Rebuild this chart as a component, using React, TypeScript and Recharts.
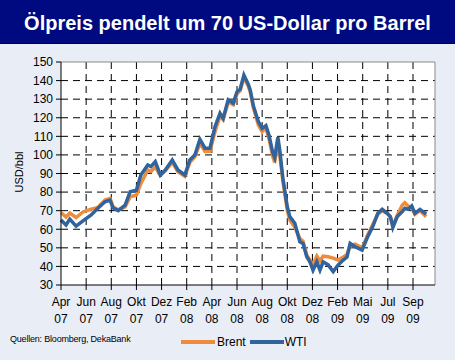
import React from "react";
import { LineChart, Line, XAxis, YAxis, CartesianGrid, ReferenceLine } from "recharts";

// month offsets from April 2007 (0 = Apr 07)
const monthPos = [0, 0.4, 0.7, 1.2, 1.75, 2.4, 2.95, 3.5, 3.9, 4.15, 4.55, 5.1, 5.5, 6.0, 6.35, 6.9, 7.15, 7.5, 7.9, 8.3, 8.85, 9.3, 9.85, 10.25, 10.65, 11.05, 11.45, 11.85, 12.25, 12.65, 12.9, 13.3, 13.7, 14.0, 14.25, 14.55, 14.9, 15.05, 15.3, 15.7, 16.0, 16.3, 16.55, 16.85, 17.0, 17.25, 17.4, 17.65, 18.0, 18.2, 18.6, 19.0, 19.25, 19.55, 19.8, 20.05, 20.35, 20.6, 20.85, 21.25, 21.65, 22.05, 22.45, 22.75, 23.0, 23.4, 23.95, 24.4, 24.8, 25.2, 25.55, 25.95, 26.2, 26.4, 26.75, 27.15, 27.35, 27.6, 27.9, 28.15, 28.55, 29.05];

const wti = [65, 62.3, 65.5, 61.7, 64.5, 67.7, 71.4, 74.8, 75.7, 71.4, 70, 73, 80.2, 81, 89.2, 94.6, 93.7, 96.4, 89.2, 91.9, 97.3, 91.9, 89.2, 97.3, 100, 108.4, 103.6, 103.6, 115.2, 122.4, 119.7, 129.6, 127.8, 134, 135.3, 143, 138, 135, 126.5, 117.9, 114.3, 115.8, 110.5, 101, 98.5, 109.5, 102.6, 87.5, 72.1, 66.8, 63.2, 53.3, 52.4, 45.2, 42.5, 38, 42.5, 38, 42.5, 40.8, 37.2, 40.8, 43.4, 45, 52.4, 50.6, 48.8, 56, 61.4, 68.6, 70.7, 68.6, 66.8, 61, 66.8, 69.5, 71.3, 70.7, 72.5, 68.6, 70.7, 68.2];

const brent = [69, 66.6, 68.7, 66.3, 69.3, 70.8, 71.8, 75.7, 76.6, 72.1, 70.4, 72, 77.5, 78.4, 84.5, 91.9, 91, 93.5, 89, 91.5, 96, 91, 88.5, 96, 99, 106.2, 101.9, 102, 112.5, 121, 119, 128.5, 127, 133, 134.5, 141.5, 137, 134, 125.5, 116, 112.5, 114.5, 108.5, 99, 96, 107, 100, 86, 70, 65, 61, 55, 53.5, 46, 43.5, 41, 45.5, 43, 45.5, 45.2, 44.5, 43.4, 45, 46.5, 51, 52, 50, 57, 62.5, 68, 70, 68.5, 66.5, 62, 67.5, 73, 74.3, 72.5, 71.5, 68, 70, 66.8];

const tickMonths = [0, 2, 4, 6, 8, 10, 12, 14, 16, 18, 20, 22, 24, 26, 28];
const tickMonthNames = ["Apr", "Jun", "Aug", "Okt", "Dez", "Feb", "Apr", "Jun", "Aug", "Okt", "Dez", "Feb", "Mai", "Jul", "Sep"];
const tickYears = ["07", "07", "07", "07", "07", "08", "08", "08", "08", "08", "08", "09", "09", "09", "09"];
const yTicks = [30, 40, 50, 60, 70, 80, 90, 100, 110, 120, 130, 140, 150];
const gridY = [40, 50, 60, 70, 80, 90, 100, 110, 120, 130, 140];
const gridX = [2, 4, 6, 8, 10, 12, 14, 16, 18, 20, 22, 24, 26, 28];

const title = "Ölpreis pendelt um 70 US-Dollar pro Barrel";
const source = "Quellen: Bloomberg, DekaBank";
const yLabel = "USD/bbl";

const data = monthPos.map((m, i) => ({ m, wti: wti[i], brent: brent[i] }));

const BRENT = "#ee8c3e";
const WTI = "#31639c";
const FONT = "'Liberation Sans', Arial, sans-serif";

const XTick = (props: any) => {
  const { x, y, payload } = props;
  const idx = tickMonths.indexOf(payload.value);
  return (
    <g>
      <text x={x} y={y + 16} textAnchor="middle" fontSize={12} fill="#000" fontFamily={FONT}>
        {tickMonthNames[idx]}
      </text>
      <text x={x} y={y + 33} textAnchor="middle" fontSize={12} fill="#000" fontFamily={FONT}>
        {tickYears[idx]}
      </text>
    </g>
  );
};

export default function App() {
  return (
    <div
      style={{
        position: "absolute",
        left: 0,
        top: 0,
        width: 455,
        height: 360,
        background: "#e9edf6",
        fontFamily: FONT,
        overflow: "hidden",
      }}
    >
      <LineChart
        width={455}
        height={360}
        data={data}
        margin={{ top: 62, right: 20, bottom: 35, left: 0 }}
      >
        <CartesianGrid
          horizontalValues={gridY}
          verticalValues={gridX}
          stroke="#000"
          strokeDasharray="7 5"
          fill="#fff"
          fillOpacity={1}
        />
        <XAxis
          dataKey="m"
          type="number"
          domain={[0, 29.75]}
          ticks={tickMonths}
          interval={0}
          height={40}
          tickSize={5}
          tickMargin={0}
          stroke="#000"
          tick={<XTick />}
        />
        <YAxis
          type="number"
          domain={[30, 150]}
          ticks={yTicks}
          interval={0}
          width={61}
          tickSize={5}
          tickMargin={3}
          stroke="#000"
          tick={{ fontSize: 12, fill: "#000", fontFamily: FONT }}
        />
        <ReferenceLine y={150} stroke="#8a8a8a" strokeWidth={1} />
        <ReferenceLine x={29.75} stroke="#8a8a8a" strokeWidth={1} />
        <Line
          type="linear"
          dataKey="brent"
          stroke={BRENT}
          strokeWidth={3.5}
          dot={false}
          isAnimationActive={false}
        />
        <Line
          type="linear"
          dataKey="wti"
          stroke={WTI}
          strokeWidth={3.5}
          dot={false}
          isAnimationActive={false}
        />
      </LineChart>

      <div
        style={{
          position: "absolute",
          left: 0,
          top: 0,
          width: 455,
          height: 44,
          background: "#000a80",
          color: "#fff",
          fontWeight: "bold",
          fontSize: 20,
          lineHeight: "46px",
          textAlign: "center",
          fontFamily: FONT,
          boxSizing: "border-box",
          borderBottom: "1px solid #00004a",
        }}
      >
        {title}
      </div>

      <div
        style={{
          position: "absolute",
          left: 19,
          top: 172,
          transform: "translate(-50%, -50%) rotate(-90deg)",
          fontSize: 11,
          color: "#000",
          whiteSpace: "nowrap",
        }}
      >
        {yLabel}
      </div>

      <div
        style={{
          position: "absolute",
          left: 10,
          top: 334,
          fontSize: 9,
          color: "#000",
          whiteSpace: "nowrap",
          letterSpacing: -0.2,
        }}
      >
        {source}
      </div>

      <div
        style={{
          position: "absolute",
          left: 181,
          top: 334,
          display: "flex",
          alignItems: "center",
          fontSize: 12,
          color: "#000",
          whiteSpace: "nowrap",
          height: 16,
        }}
      >
        <span style={{ display: "inline-block", width: 34, height: 4, background: BRENT, marginRight: 2 }} />
        <span>Brent</span>
        <span style={{ display: "inline-block", width: 34, height: 4, background: WTI, marginLeft: 4, marginRight: 1 }} />
        <span>WTI</span>
      </div>
    </div>
  );
}
